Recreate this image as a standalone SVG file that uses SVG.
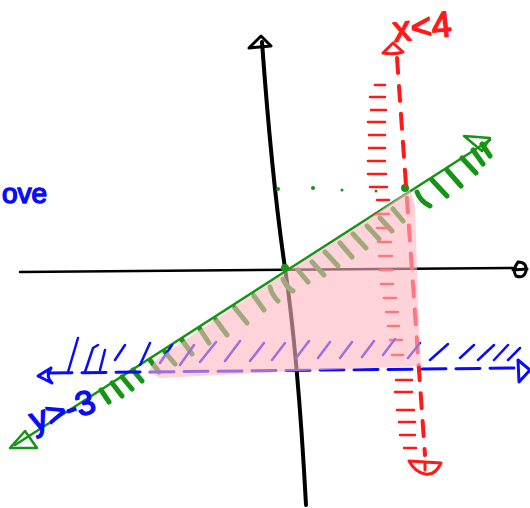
<svg xmlns="http://www.w3.org/2000/svg" width="530" height="508" viewBox="0 0 530 508">
<style>
.k{fill:none;stroke:#000;stroke-linecap:round;stroke-linejoin:round}
.g{fill:none;stroke:#159415;stroke-linecap:round;stroke-linejoin:round}
.gh{fill:none;stroke:#159415;stroke-width:5;stroke-linecap:round}
.r{fill:none;stroke:#ff1a1a;stroke-linecap:round;stroke-linejoin:round}
.rh{fill:none;stroke:#ff1a1a;stroke-width:2.5;stroke-linecap:round}
.b{fill:none;stroke:#0a0aff;stroke-linecap:round;stroke-linejoin:round}
.bh{fill:none;stroke:#0a0aff;stroke-width:2.5;stroke-linecap:round}
.t{font-family:"Liberation Sans",Arial,sans-serif;stroke-width:1.5;stroke-linejoin:round}
</style>
<rect width="530" height="508" fill="#fff"/>
<g id="axes">
<path class="k" stroke-width="4" d="M262,42 Q272,180 285,268 T306,505"/>
<path class="k" stroke-width="3" d="M249,48 L261,36 L271,46 Z"/>
<path class="k" stroke-width="2.5" d="M20,272 L514,268"/>
<path class="k" stroke-width="3" d="M518,262 Q527,262 526,271 Q524,279 516,276 Q512,270 518,262 M513,270 L527,269"/>
</g>
<g id="green-line">
<path class="g" stroke-width="2.5" d="M15,445 L490,140"/>
<path class="g" stroke-width="2.5" d="M464,136 L490,138 L482,151 Z"/>
<path class="g" stroke-width="2.5" d="M10,448 L25,431 L37,448 Z"/>
<circle cx="285" cy="268" r="4" fill="#159415"/>
<circle cx="405" cy="188" r="4" fill="#159415"/>
<g fill="#159415"><circle cx="278" cy="189" r="2"/><circle cx="313" cy="188" r="2"/><circle cx="342" cy="190" r="1.5"/><circle cx="376" cy="191" r="1.5"/></g>
<path class="gh" d="M101,390 l8,12 M112,383 l10,13 M122,377 l10,12 M133,370 l9,11 M150,360 l9,12 M165,352 l10,12 M182,340 l10,14 M200,329 l9,14 M216,320 l11,15 M235,308 l12,15 M254,296 l10,14 M270,287 q2,8 8,14 M283,279 q3,8 10,12 M298,270 l10,12 M312,262 l12,13 M325,252 l13,14 M340,243 l12,14 M353,234 l13,14 M367,226 l12,13 M380,218 l12,13 M393,209 l10,12 M417,192 q3,9 13,14 M432,180 l15,16 M447,170 l14,16 M462,158 l14,15 M473,150 l10,14 M482,144 l8,12"/>
</g>
<g id="red-line">
<path class="r" stroke-width="4" stroke-dasharray="15 13" d="M397,58 L425,455"/>
<path class="r" stroke-width="3" d="M383,53 L393,43 L403,52 Q393,55 383,53 Z" fill="#ff1a1a"/>
<path class="r" stroke-width="3" d="M409,461 L441,463 Q435,476 425,474 Q415,472 409,461 Z M425,462 L425,470"/>
<path class="rh" d="M375,85 h10 M370,97 h15 M371,110 h15 M368,122 h17 M369,135 h16 M369,148 h16 M368,161 h17 M368,174 h18 M370,187 h17 M377,200 h12 M375,214 h14 M377,228 h13 M378,242 h13 M379,256 h13 M380,270 h12 M381,284 h12 M384,298 h12 M386,312 h12 M388,326 h11 M390,340 h12 M392,355 h11 M396,380 h16 M395,392 h17 M397,410 h17 M399,422 h16 M400,435 h15 M404,448 h12"/>
</g>
<g id="blue-line">
<path class="b" stroke-width="3" stroke-dasharray="24 10" d="M48,373 L518,368"/>
<path class="b" stroke-width="3" d="M51,368 L38,376 L52,383 Q45,376 51,368"/>
<path class="b" stroke-width="3" d="M518,360 L530,370 L519,382 Z" fill="#0a0aff"/>
<path class="bh" stroke-width="3" d="M68,372 L78,338 M85,372 L93,348 L98,345 M100,370 L105,350 M115,360 L125,345 M140,365 l10,-22 M160,363 l12,-18 M180,365 l14,-20 M200,362 l16,-20 M225,361 l15,-20 M250,361 l14,-18 M272,360 l13,-17 M296,358 l13,-17 M318,358 l12,-16 M340,358 l12,-16 M362,357 l12,-16 M383,355 l12,-16 M408,358 l12,-15 M430,360 l18,-16 M460,358 l14,-13 M478,360 l16,-15 M494,360 l14,-15 M508,360 l12,-12"/>
</g>
<polygon id="region" points="148,372 156,360 200,330 280,276 360,225 410,190 415,205 418,300 421,366 300,371 160,378" fill="#ffb6c1" fill-opacity="0.6"/>
<g id="labels">
<text class="t" x="394" y="42" font-size="36" fill="#ff1a1a" stroke="#ff1a1a" transform="rotate(-6 394 42)">x&lt;4</text>
<text class="t" x="34" y="432" font-size="34" fill="#0a0aff" stroke="#0a0aff" transform="rotate(-18 34 432)">y&gt;-3</text>
<text class="t" x="2" y="203" font-size="28" fill="#0a0aff" stroke="#0a0aff">ove</text>
</g>
</svg>
